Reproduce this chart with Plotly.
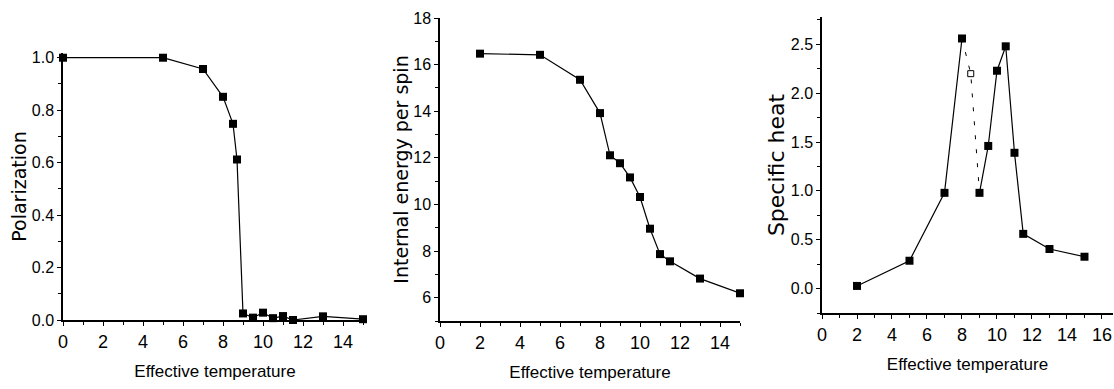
import plotly.graph_objects as go

# ---- data ----
pol_t = [0, 5, 7, 8, 8.5, 8.7, 9, 9.5, 10, 10.5, 11, 11.5, 13, 15]
pol_v = [1.0, 1.0, 0.957, 0.851, 0.748, 0.612, 0.025, 0.009, 0.028, 0.007, 0.015, 0.0, 0.014, 0.003]

en_t = [2, 5, 7, 8, 8.5, 9, 9.5, 10, 10.5, 11, 11.5, 13, 15]
en_v = [16.47, 16.42, 15.35, 13.92, 12.11, 11.77, 11.16, 10.32, 8.96, 7.87, 7.56, 6.82, 6.19]

sh_t_low = [2, 5, 7, 8]
sh_v_low = [0.027, 0.285, 0.98, 2.56]
sh_t_gap = [8, 8.5, 9]
sh_v_gap = [2.56, 2.2, 0.98]
sh_t_high = [9, 9.5, 10, 10.5, 11, 11.5, 13, 15]
sh_v_high = [0.98, 1.46, 2.23, 2.48, 1.39, 0.56, 0.405, 0.326]

x_title = "Effective temperature"
y_titles = ["Polarization", "Internal energy per spin", "Specific heat"]

W, H = 1114, 389
NARROW = "Liberation Sans Narrow, Arial Narrow, Liberation Sans, Arial, sans-serif"
WIDE = "DejaVu Sans, Liberation Sans, Arial, sans-serif"

fig = go.Figure()

mk = dict(symbol="square", size=8, color="black")
ln = dict(color="black", width=1.2)

fig.add_trace(go.Scatter(x=pol_t, y=pol_v, mode="lines+markers", marker=mk, line=ln,
                         xaxis="x", yaxis="y", cliponaxis=False, showlegend=False))
fig.add_trace(go.Scatter(x=en_t, y=en_v, mode="lines+markers", marker=mk, line=ln,
                         xaxis="x2", yaxis="y2", cliponaxis=False, showlegend=False))
fig.add_trace(go.Scatter(x=sh_t_low, y=sh_v_low, mode="lines+markers", marker=mk, line=ln,
                         xaxis="x3", yaxis="y3", cliponaxis=False, showlegend=False))
fig.add_trace(go.Scatter(x=sh_t_gap, y=sh_v_gap, mode="lines",
                         line=dict(color="black", width=1, dash="4px,10px"),
                         xaxis="x3", yaxis="y3", cliponaxis=False, showlegend=False))
fig.add_trace(go.Scatter(x=[sh_t_gap[1]], y=[sh_v_gap[1]], mode="markers",
                         marker=dict(symbol="square-open", size=6, color="black", line=dict(width=1)),
                         xaxis="x3", yaxis="y3", cliponaxis=False, showlegend=False))
fig.add_trace(go.Scatter(x=sh_t_high, y=sh_v_high, mode="lines+markers", marker=mk, line=ln,
                         xaxis="x3", yaxis="y3", cliponaxis=False, showlegend=False))


def px_x(a, b):
    return [a / W, b / W]


def px_y(top, bottom):
    return [(H - bottom) / H, (H - top) / H]


def xaxis(dom, rng, anchor):
    return dict(domain=dom, range=rng, anchor=anchor, showline=True, linecolor="black", linewidth=2,
                automargin=False,
                ticks="outside", ticklen=4, tickwidth=1.2, tickcolor="black", dtick=2, tick0=0,
                minor=dict(ticks="outside", ticklen=3, tickwidth=1.2, tickcolor="black", dtick=1),
                showgrid=False, zeroline=False, mirror=False,
                tickfont=dict(family=NARROW, size=18, color="black"),
                title=dict(text=x_title, font=dict(family=NARROW, size=17, color="black"), standoff=15))


def yaxis(dom, rng, anchor, dtick, mdtick, fmt, title, tsize, standoff):
    return dict(domain=dom, range=rng, anchor=anchor, showline=True, linecolor="black", linewidth=1.5,
                automargin=False,
                ticks="outside", ticklen=4, tickwidth=1.2, tickcolor="black", dtick=dtick, tick0=0,
                minor=dict(ticks="outside", ticklen=3, tickwidth=1.2, tickcolor="black", dtick=mdtick),
                showgrid=False, zeroline=False, tickformat=fmt,
                tickfont=dict(family=NARROW, size=16, color="black"),
                title=dict(text=title, font=dict(family=WIDE, size=tsize, color="black"), standoff=standoff))


fig.update_layout(
    width=W, height=H, margin=dict(l=0, r=0, t=0, b=0, autoexpand=False),
    plot_bgcolor="white", paper_bgcolor="white",
    xaxis=xaxis(px_x(63, 367), [0, 15.2], "y"),
    yaxis=yaxis(px_y(53, 320), [0, 1.018], "x", 0.2, 0.1, ".1f", y_titles[0], 19, 0),
    xaxis2=xaxis(px_x(440, 740), [0, 15], "y2"),
    yaxis2=yaxis(px_y(18, 321), [5, 18], "x2", 2, 1, "d", y_titles[1], 19, 0),
    xaxis3=xaxis(px_x(822, 1113), [0, 16.63], "y3"),
    yaxis3=yaxis(px_y(17, 313), [-0.25, 2.78], "x3", 0.5, 0.25, ".1f", y_titles[2], 22, 0),
)

fig.write_html("out.html", config={"displayModeBar": False},
               post_script="document.body.style.margin='0px';document.body.style.overflow='hidden';")
